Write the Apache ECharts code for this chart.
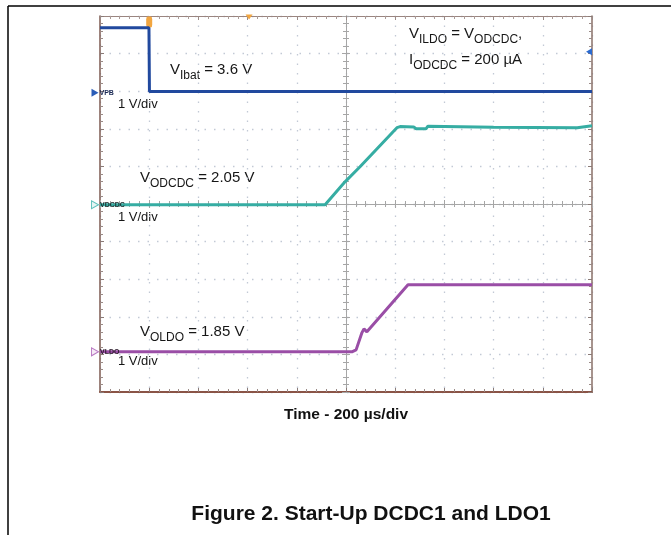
<!DOCTYPE html>
<html><head><meta charset="utf-8">
<script src="https://cdn.jsdelivr.net/npm/echarts@6/dist/echarts.min.js"></script>
<style>html,body{margin:0;padding:0;background:#fff}#c{width:671px;height:535px}</style>
</head><body><div id="c"></div>
<script>
// Time in µs relative to screen centre (200 µs/div); levels in V (1 V/div) relative to each channel's ground marker
const vpbTime   = [-1000, -801, -799, 1000];
const vpbVolts  = [1.73, 1.73, 0.03, 0.03];
const vdcdcTime  = [-1000, -85, -4, 57, 207, 220, 275, 285, 325, 333, 600, 940, 948, 1000];
const vdcdcVolts = [0, 0, 0.61, 1.01, 2.05, 2.08, 2.07, 2.02, 2.02, 2.09, 2.06, 2.05, 2.10, 2.10];
const vldoTime  = [-1000, 24, 41, 65, 73, 85, 252, 1000];
const vldoVolts = [0, 0, 0.05, 0.51, 0.61, 0.53, 1.78, 1.78];
const channelNames = ['VPB', 'VDCDC', 'VLDO'];
const channelOffsetDiv = [2.96, -0.02, -3.93];
const triggerTime = -800;
const triggerLevelDiv = 4.05;

const FONT = '"Liberation Sans", Arial, sans-serif';
const chart = echarts.init(document.getElementById('c'), null, {renderer: 'canvas'});

function build(times, volts, off) { return times.map((t, i) => [t, volts[i] + off]); }

const ctx = document.createElement('canvas').getContext('2d');
function measure(txt, size, weight) { ctx.font = (weight || 'normal') + ' ' + size + 'px ' + FONT; return ctx.measureText(txt).width; }
function subText(x, yMid, parts) {
  const out = []; let cx = x;
  parts.forEach(p => {
    const sub = p[1];
    const size = sub ? 12 : 15;
    out.push({type: 'text', x: cx, y: sub ? yMid + 6 : yMid, silent: true,
      style: {text: p[0], fontSize: size, fontFamily: FONT, fill: '#161616', verticalAlign: 'middle', align: 'left'}});
    cx += measure(p[0], size);
  });
  return out;
}

const tickCol = '#a6a6a6';
function axisBase(extra) {
  return Object.assign({type: 'value', axisLabel: {show: false}, splitLine: {show: false}}, extra);
}
const xCfg = {min: -1000, max: 1000, interval: 200};
const yCfg = {min: -5, max: 5, interval: 1};
const minor = (len, col) => ({show: true, splitNumber: 5, length: len, lineStyle: {color: col, width: 1}});
const dotCol = '#c2c9d5';

const option = {
  animation: false,
  backgroundColor: '#fff',
  grid: {left: 100, right: 79, top: 16, bottom: 143, show: false},
  xAxis: [
    axisBase(Object.assign({}, xCfg, {position: 'bottom',
      axisLine: {onZero: true, lineStyle: {color: tickCol, width: 1}},
      axisTick: {show: true, inside: false, length: 4, lineStyle: {color: tickCol}},
      minorTick: minor(3, tickCol),
      splitLine: {show: true, lineStyle: {color: dotCol, width: 1.3, type: [1.5, 8]}}})),
    axisBase(Object.assign({}, xCfg, {position: 'top',
      axisLine: {onZero: true, lineStyle: {color: tickCol, width: 1}},
      axisTick: {show: true, inside: false, length: 4, lineStyle: {color: tickCol}},
      minorTick: minor(3, tickCol)})),
    axisBase(Object.assign({}, xCfg, {position: 'bottom',
      axisLine: {onZero: false, lineStyle: {color: '#8a5446', width: 2}},
      axisTick: {show: true, inside: true, length: 4, lineStyle: {color: '#8a7a76'}},
      minorTick: minor(3, '#9a8a86')})),
    axisBase(Object.assign({}, xCfg, {position: 'top',
      axisLine: {onZero: false, lineStyle: {color: '#9a8580', width: 1}},
      axisTick: {show: true, inside: true, length: 4, lineStyle: {color: '#9a8a86'}},
      minorTick: minor(3, '#a99a96')}))
  ],
  yAxis: [
    axisBase(Object.assign({}, yCfg, {position: 'left',
      axisLine: {onZero: true, lineStyle: {color: tickCol, width: 1}},
      axisTick: {show: true, inside: false, length: 4, lineStyle: {color: tickCol}},
      minorTick: minor(3, tickCol),
      splitLine: {show: true, lineStyle: {color: dotCol, width: 1.3, type: [1.5, 8]}}})),
    axisBase(Object.assign({}, yCfg, {position: 'right',
      axisLine: {onZero: true, lineStyle: {color: tickCol, width: 1}},
      axisTick: {show: true, inside: false, length: 4, lineStyle: {color: tickCol}},
      minorTick: minor(3, tickCol)})),
    axisBase(Object.assign({}, yCfg, {position: 'left',
      axisLine: {onZero: false, lineStyle: {color: '#7d5a50', width: 1.5}},
      axisTick: {show: true, inside: true, length: 4, lineStyle: {color: '#8a7a76'}},
      minorTick: minor(3, '#9a8a86')})),
    axisBase(Object.assign({}, yCfg, {position: 'right',
      axisLine: {onZero: false, lineStyle: {color: '#8a7068', width: 1.5}},
      axisTick: {show: true, inside: true, length: 4, lineStyle: {color: '#8a7a76'}},
      minorTick: minor(3, '#9a8a86')}))
  ],
  series: [
    {name: 'VPB', type: 'line', showSymbol: false, z: 5,
     data: build(vpbTime, vpbVolts, channelOffsetDiv[0]),
     lineStyle: {color: '#21499e', width: 3}, itemStyle: {color: '#21499e'},
     markPoint: {data: [
       {coord: [-1000, channelOffsetDiv[0]], symbol: 'triangle', symbolRotate: -90, symbolSize: [8, 7], symbolOffset: [-5, 0],
        itemStyle: {color: '#2a5db8'}, label: {show: true, formatter: channelNames[0], position: 'right', distance: 1, fontSize: 7, fontWeight: 'bold', color: '#1b2a55', fontFamily: FONT}},
       {coord: [triggerTime, yCfg.max], symbol: 'roundRect', symbolSize: [6, 11], symbolOffset: [0, 6],
        itemStyle: {color: '#f2a640'}, label: {show: false}},
       {coord: [-394, yCfg.max], symbol: 'triangle', symbolRotate: 180, symbolSize: [7, 5], symbolOffset: [0, 1],
        itemStyle: {color: '#f2a640'}, label: {show: false}},
       {coord: [xCfg.max, triggerLevelDiv], symbol: 'triangle', symbolRotate: 90, symbolSize: [7, 6], symbolOffset: [-3, 0],
        itemStyle: {color: '#2a6ad0'}, label: {show: false}}
     ]}},
    {name: 'VDCDC', type: 'line', showSymbol: false, z: 4,
     data: build(vdcdcTime, vdcdcVolts, channelOffsetDiv[1]),
     lineStyle: {color: '#36ada3', width: 3}, itemStyle: {color: '#36ada3'},
     markPoint: {data: [
       {coord: [-1000, channelOffsetDiv[1]], symbol: 'triangle', symbolRotate: -90, symbolSize: [8, 7], symbolOffset: [-5, 0],
        itemStyle: {color: '#e6f6f5', borderColor: '#5cc0ba', borderWidth: 1},
        label: {show: true, formatter: channelNames[1], position: 'right', distance: 1, fontSize: 7, fontWeight: 'bold', color: '#1a2a2a', fontFamily: FONT}}
     ]}},
    {name: 'VLDO', type: 'line', showSymbol: false, z: 4,
     data: build(vldoTime, vldoVolts, channelOffsetDiv[2]),
     lineStyle: {color: '#9a4ea6', width: 3}, itemStyle: {color: '#9a4ea6'},
     markPoint: {data: [
       {coord: [-1000, channelOffsetDiv[2]], symbol: 'triangle', symbolRotate: -90, symbolSize: [8, 7], symbolOffset: [-5, 0],
        itemStyle: {color: '#f6eaf7', borderColor: '#b878c2', borderWidth: 1},
        label: {show: true, formatter: channelNames[2], position: 'right', distance: 1, fontSize: 7, fontWeight: 'bold', color: '#2a1a2a', fontFamily: FONT}}
     ]}}
  ],
  graphic: [].concat(
    [{type: 'line', shape: {x1: 8, y1: 6, x2: 671, y2: 6}, style: {stroke: '#000', lineWidth: 1.5}, silent: true},
     {type: 'line', shape: {x1: 8, y1: 6, x2: 8, y2: 535}, style: {stroke: '#000', lineWidth: 1.5}, silent: true}],
    subText(170, 70, [['V', 0], ['Ibat', 1], [' = 3.6 V', 0]]),
    subText(409, 34, [['V', 0], ['ILDO', 1], [' = V', 0], ['ODCDC', 1], [',', 0]]),
    subText(409, 60, [['I', 0], ['ODCDC', 1], [' = 200 \u00b5A', 0]]),
    subText(140, 178, [['V', 0], ['ODCDC', 1], [' = 2.05 V', 0]]),
    subText(140, 332, [['V', 0], ['OLDO', 1], [' = 1.85 V', 0]]),
    [104, 217, 361].map(y => ({type: 'text', x: 118, y: y, silent: true,
      style: {text: '1 V/div', fontSize: 13, fontFamily: FONT, fill: '#161616', verticalAlign: 'middle'}})),
    [{type: 'text', x: 346, y: 415, silent: true,
      style: {text: 'Time - 200 \u00b5s/div', fontSize: 15.5, fontWeight: 'bold', fontFamily: FONT, fill: '#111', align: 'center', verticalAlign: 'middle'}},
     {type: 'text', x: 371, y: 514, silent: true,
      style: {text: 'Figure 2. Start-Up DCDC1 and LDO1', fontSize: 21, fontWeight: 'bold', fontFamily: FONT, fill: '#111', align: 'center', verticalAlign: 'middle'}}]
  )
};
chart.setOption(option);
</script>
</body></html>
